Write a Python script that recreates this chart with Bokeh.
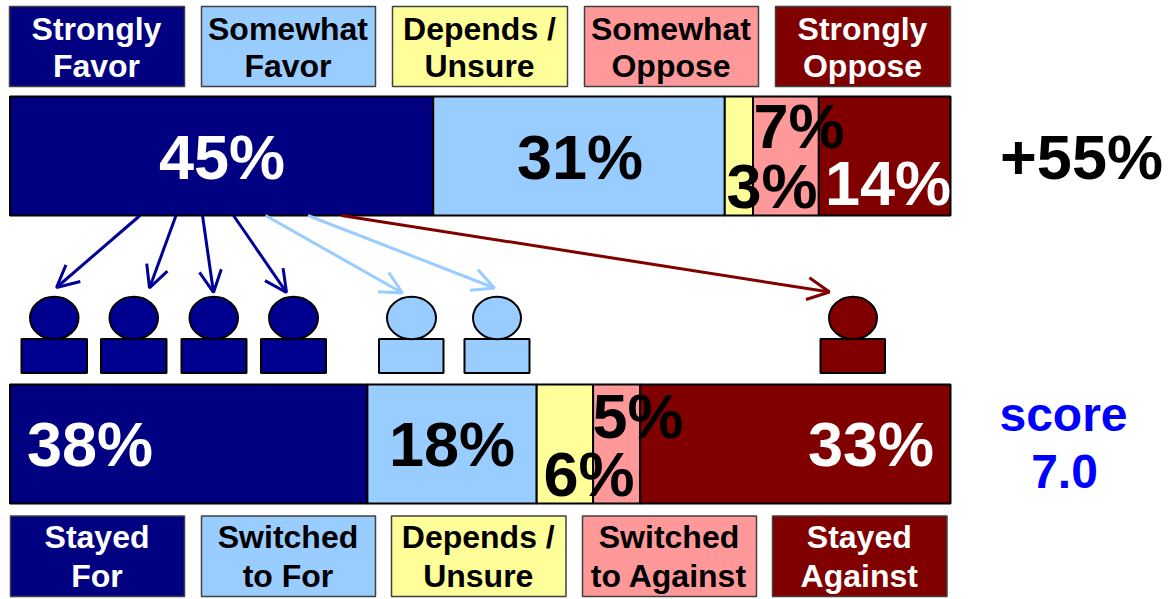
from bokeh.plotting import figure
from bokeh.models import Range1d, Arrow, OpenHead
from bokeh.core.properties import value
from bokeh.embed import file_html
from bokeh.resources import INLINE

# ---- data ----
top_shares = [45, 31, 3, 7, 14]
bottom_shares = [38, 18, 6, 5, 33]
top_legend = [["Strongly", "Favor"], ["Somewhat", "Favor"], ["Depends /", "Unsure"],
              ["Somewhat", "Oppose"], ["Strongly", "Oppose"]]
bottom_legend = [["Stayed", "For"], ["Switched", "to For"], ["Depends /", "Unsure"],
                 ["Switched", "to Against"], ["Stayed", "Against"]]
net_label = "+55%"
score_label = ["score", "7.0"]

# ---- styles / layout ----
NAVY, SKY, YEL, PINK, MAROON = "#000080", "#99CCFF", "#FFFF99", "#FF9999", "#800000"
seg_colors = [NAVY, SKY, YEL, PINK, MAROON]
txt_colors = ["white", "black", "black", "black", "white"]
FONT = value("Liberation Sans")
W, H = 1173, 599
BAR_L, BAR_R = 9.5, 950

p = figure(width=W, height=H, output_backend="svg", toolbar_location=None,
           x_range=Range1d(0, W), y_range=Range1d(H, 0),
           min_border=0, min_border_left=0, min_border_right=0,
           min_border_top=0, min_border_bottom=0,
           x_axis_location=None, y_axis_location=None,
           outline_line_color=None, background_fill_color="white")
p.grid.visible = False
p.styles = {"position": "absolute", "left": "0", "top": "0"}
p.extra_x_ranges = {"share": Range1d(-BAR_L / (BAR_R - BAR_L) * 100,
                                     (W - BAR_L) / (BAR_R - BAR_L) * 100)}

pending = []


def lay_text(x, baseline, text, size, color):
    pending.append((x - 0.5, baseline - 0.365 * size, text, size, color))


def stacked(shares, y0, y1, lab_x, lab_y):
    left, right, c = [], [], 0
    for s in shares:
        left.append(c)
        c += s
        right.append(c)
    p.quad(left=left, right=right, top=[y0] * len(shares), bottom=[y1] * len(shares),
           fill_color=seg_colors, line_color="black", line_width=2, x_range_name="share")
    for s, x, y, col in zip(shares, lab_x, lab_y, txt_colors):
        lay_text(x, y, f"{s}%", 63, col)


def legend_row(rows, lefts, rights, y0, y1, base1, base2):
    p.quad(left=lefts, right=rights, top=[y0] * 5, bottom=[y1] * 5,
           fill_color=seg_colors, line_color="#404040", line_width=1.5)
    for lines, l, r, col in zip(rows, lefts, rights, txt_colors):
        cx = (l + r) / 2
        lay_text(cx, base1, lines[0], 32, col)
        lay_text(cx, base2, lines[1], 32, col)


legend_row(top_legend, [9, 201, 392, 584, 775], [184, 375, 567, 758, 950], 6, 86, 40, 77.5)
legend_row(bottom_legend, [10, 201, 391, 582, 772], [184, 375, 565.5, 756, 946.5], 515.5, 596, 548, 587.5)

stacked(top_shares, 96, 215, [222, 580, 772, 799, 888], [179, 179, 208, 148, 205])
stacked(bottom_shares, 384, 503, [90, 452, 589, 638, 871], [466.5, 466.5, 496.5, 438, 466.5])

lay_text(1081.5, 179, net_label, 63, "black")
lay_text(1063.5, 431.5, score_label[0], 48, "#0000FF")
lay_text(1064.5, 488.5, score_label[1], 48, "#0000FF")

# people: (head left, head right, body left, body right, colour)
people = [(30, 78.5, 21.5, 87, "#000090"), (109.5, 158, 101, 166.5, "#000090"),
          (189.5, 238, 181.5, 246.5, "#000090"), (269, 318, 261, 326, "#000090"),
          (387, 436, 379, 443.5, SKY), (473, 521, 464.5, 529.5, SKY),
          (829, 877, 820.5, 885, MAROON)]
for hl, hr, bl, br, col in people:
    p.quad(left=[bl - 0.5], right=[br - 0.5], top=[338.5], bottom=[372.5], fill_color=col,
           line_color="black", line_width=2)
    p.ellipse(x=[(hl + hr) / 2 - 0.5], y=[317.5], width=[hr - hl], height=[42.5], fill_color=col,
              line_color="black", line_width=2)

arrows = [(139.5, 215, 56, 287, "#000099"), (175.5, 215, 149, 287.5, "#000099"),
          (202, 215, 213, 292, "#000099"), (233, 215, 286, 292, "#000099"),
          (265, 215, 402, 292.5, SKY), (307.5, 215, 494, 287.5, SKY),
          (341, 215, 829, 291.5, MAROON)]
for x0, y0, x1, y1, col in arrows:
    p.add_layout(Arrow(x_start=x0, y_start=y0, x_end=x1, y_end=y1, line_color=col, line_width=3,
                       end=OpenHead(size=22, line_color=col, line_width=3)))

for x, y, text, size, color in pending:
    p.text(x=[x], y=[y], text=[text], text_font=FONT, text_font_style="bold",
           text_font_size=f"{size}px", text_color=color,
           text_align="center", text_baseline="alphabetic")

open("out.html", "w").write(file_html(p, INLINE))
